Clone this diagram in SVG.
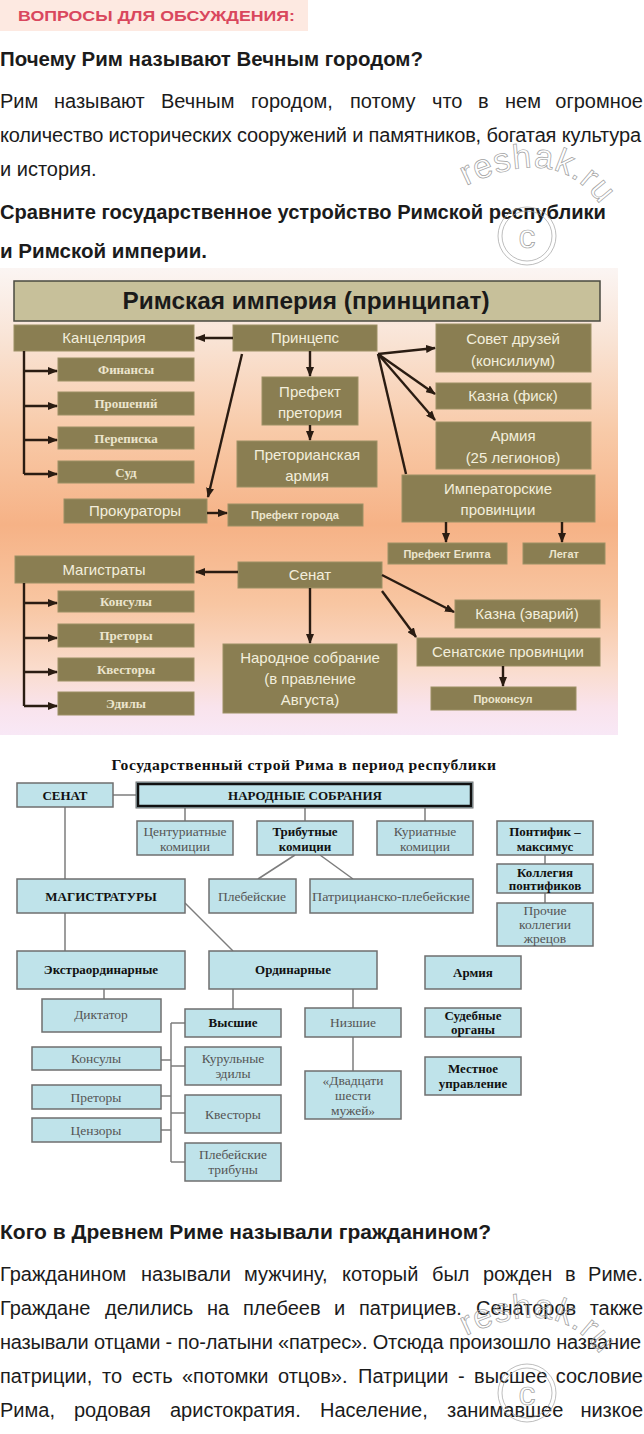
<svg xmlns="http://www.w3.org/2000/svg" width="644" height="1434" viewBox="0 0 644 1434">
<defs>
<linearGradient id="bg" x1="0" y1="0" x2="0" y2="1">
<stop offset="0" stop-color="#fbf5f3"/>
<stop offset="0.15" stop-color="#f9e4d6"/>
<stop offset="0.35" stop-color="#f8caa8"/>
<stop offset="0.55" stop-color="#f6b286"/>
<stop offset="0.72" stop-color="#f8c6a2"/>
<stop offset="0.86" stop-color="#fadccd"/>
<stop offset="0.94" stop-color="#f9e3ec"/>
<stop offset="1" stop-color="#f8e8f6"/>
</linearGradient>
<marker id="ah" markerWidth="10" markerHeight="8" refX="9" refY="4" orient="auto" markerUnits="userSpaceOnUse">
<path d="M0,0 L10,4 L0,8 Z" fill="#2a1c12"/>
</marker>
<style>
.q{font-family:"Liberation Sans",Arial,sans-serif;font-size:20px;fill:#1b1b1b}
.qb{font-weight:bold}
.eb{fill:#8a7e52;stroke:#9c9064;stroke-width:1}
.et{font-family:"Liberation Sans",Arial,sans-serif;font-size:15px;fill:#f3eedc;text-anchor:middle}
.es{font-family:"Liberation Serif","Times New Roman",serif;font-size:13px;font-weight:bold;fill:#ece5cd;text-anchor:middle}
.esm{font-family:"Liberation Sans",Arial,sans-serif;font-size:11px;font-weight:bold;fill:#ece5cd;text-anchor:middle}
.ea{stroke:#2a1c12;stroke-width:2.4;fill:none}
.eam{marker-end:url(#ah)}
.rb{fill:#bfe3ea;stroke:#6f6f6f;stroke-width:1.5}
.rt{font-family:"Liberation Serif","Times New Roman",serif;font-size:13.5px;fill:#555;text-anchor:middle}
.rtb{font-family:"Liberation Serif","Times New Roman",serif;font-size:13px;font-weight:bold;fill:#111;text-anchor:middle}
.rc{stroke:#7d7d7d;stroke-width:1.5;fill:none}
.wm{font-family:"Liberation Sans",Arial,sans-serif;font-size:34px;letter-spacing:1px;fill:none;stroke:#a0a0a0;stroke-width:0.7}
.wc{fill:none;stroke:#a0a0a0;stroke-width:0.7}
</style>
<path id="wp1" d="M 466 186 Q 600 120 632 292"/>
<path id="wp2" d="M 466 1336 Q 600 1270 632 1442"/>
</defs>
<rect width="644" height="1434" fill="#ffffff"/>

<g id="header">
<rect x="0" y="0" width="308" height="31" fill="#fde9e1"/>
<text x="18" y="21" font-family="Liberation Sans,Arial,sans-serif" font-size="15" font-weight="bold" fill="#d9475d" textLength="277" lengthAdjust="spacingAndGlyphs">ВОПРОСЫ ДЛЯ ОБСУЖДЕНИЯ:</text>
</g>
<g id="text-top" class="q">
<text class="qb" x="0" y="66" textLength="423" lengthAdjust="spacingAndGlyphs">Почему Рим называют Вечным городом?</text>
<text x="0" y="108">Рим</text>
<text x="54" y="108">называют</text>
<text x="161" y="108">Вечным</text>
<text x="251" y="108">городом,</text>
<text x="350" y="108">потому</text>
<text x="432" y="108">что</text>
<text x="478" y="108">в</text>
<text x="505" y="108">нем</text>
<text x="643" y="108" text-anchor="end">огромное</text>
<text x="0" y="142" textLength="641" lengthAdjust="spacing">количество исторических сооружений и памятников, богатая культура</text>
<text x="0" y="176">и история.</text>
<text class="qb" x="0" y="219" textLength="606" lengthAdjust="spacingAndGlyphs">Сравните государственное устройство Римской республики</text>
<text class="qb" x="0" y="258" textLength="207" lengthAdjust="spacingAndGlyphs">и Римской империи.</text>
</g>

<!-- Empire diagram -->
<rect x="0" y="268" width="618" height="467" fill="url(#bg)"/>
<g id="e-title">
<rect x="14" y="281" width="586" height="40" fill="#c7c09a" stroke="#4a4a40" stroke-width="1.5"/>
<text x="306" y="309" font-family="Liberation Sans,Arial,sans-serif" font-size="24" font-weight="bold" fill="#1a1a1a" text-anchor="middle" textLength="367" lengthAdjust="spacingAndGlyphs">Римская империя (принципат)</text>
</g>
<g id="e-kanc"><rect class="eb" x="14" y="325" width="180" height="26"/><text class="et" x="104" y="343">Канцелярия</text></g>
<g id="e-princeps"><rect class="eb" x="233" y="325" width="144" height="26"/><text class="et" x="305" y="343">Принцепс</text></g>
<g id="e-fin"><rect class="eb" x="58" y="358" width="136" height="23"/><text class="es" x="126" y="374">Финансы</text></g>
<g id="e-pros"><rect class="eb" x="58" y="392" width="136" height="23"/><text class="es" x="126" y="408">Прошений</text></g>
<g id="e-perep"><rect class="eb" x="58" y="427" width="136" height="22"/><text class="es" x="126" y="443">Переписка</text></g>
<g id="e-sud"><rect class="eb" x="58" y="461" width="136" height="22"/><text class="es" x="126" y="477">Суд</text></g>
<g id="e-pref-pret"><rect class="eb" x="262" y="377" width="96" height="48"/><text class="et" x="310" y="397">Префект</text><text class="et" x="310" y="418">претория</text></g>
<g id="e-pret-army"><rect class="eb" x="237" y="441" width="140" height="46"/><text class="et" x="307" y="460">Преторианская</text><text class="et" x="307" y="481">армия</text></g>
<g id="e-prokur"><rect class="eb" x="64" y="499" width="143" height="24"/><text class="et" x="135" y="516">Прокураторы</text></g>
<g id="e-pref-gor"><rect class="eb" x="228" y="504" width="135" height="22"/><text class="esm" x="295" y="519">Префект города</text></g>
<g id="e-sovet"><rect class="eb" x="436" y="324" width="155" height="48"/><text class="et" x="513" y="344">Совет друзей</text><text class="et" x="513" y="366">(консилиум)</text></g>
<g id="e-fisk"><rect class="eb" x="436" y="383" width="155" height="26"/><text class="et" x="513" y="401">Казна (фиск)</text></g>
<g id="e-army"><rect class="eb" x="436" y="422" width="155" height="47"/><text class="et" x="513" y="441">Армия</text><text class="et" x="513" y="463">(25 легионов)</text></g>
<g id="e-imp-prov"><rect class="eb" x="402" y="475" width="193" height="47"/><text class="et" x="498" y="494">Императорские</text><text class="et" x="498" y="515">провинции</text></g>
<g id="e-pref-eg"><rect class="eb" x="388" y="543" width="119" height="21"/><text class="esm" x="447" y="558">Префект Египта</text></g>
<g id="e-legat"><rect class="eb" x="523" y="543" width="82" height="21"/><text class="esm" x="564" y="558">Легат</text></g>
<g id="e-magistr"><rect class="eb" x="15" y="556" width="179" height="27"/><text class="et" x="104" y="575">Магистраты</text></g>
<g id="e-kons"><rect class="eb" x="58" y="591" width="136" height="21"/><text class="es" x="126" y="606">Консулы</text></g>
<g id="e-pretory"><rect class="eb" x="58" y="624" width="136" height="23"/><text class="es" x="126" y="640">Преторы</text></g>
<g id="e-kvest"><rect class="eb" x="58" y="658" width="136" height="23"/><text class="es" x="126" y="674">Квесторы</text></g>
<g id="e-edil"><rect class="eb" x="58" y="692" width="136" height="23"/><text class="es" x="126" y="708">Эдилы</text></g>
<g id="e-senat"><rect class="eb" x="238" y="562" width="144" height="26"/><text class="et" x="310" y="580">Сенат</text></g>
<g id="e-nar"><rect class="eb" x="223" y="644" width="174" height="69"/><text class="et" x="310" y="663">Народное собрание</text><text class="et" x="310" y="684">(в правление</text><text class="et" x="310" y="705">Августа)</text></g>
<g id="e-erar"><rect class="eb" x="455" y="600" width="145" height="28"/><text class="et" x="527" y="619">Казна (эварий)</text></g>
<g id="e-sen-prov"><rect class="eb" x="417" y="638" width="183" height="28"/><text class="et" x="508" y="657">Сенатские провинции</text></g>
<g id="e-prokons"><rect class="eb" x="431" y="687" width="145" height="23"/><text class="esm" x="503" y="703">Проконсул</text></g>

<g id="e-connectors">
<path class="ea eam" d="M233 338 H196"/>
<path class="ea" d="M24 351 V474"/>
<path class="ea eam" d="M24 371 H57"/>
<path class="ea eam" d="M24 406 H57"/>
<path class="ea eam" d="M24 440 H57"/>
<path class="ea eam" d="M24 474 H57"/>
<path class="ea eam" d="M242 354 L208 497"/>
<path class="ea eam" d="M207 513 H227"/>
<path class="ea eam" d="M310 351 V376"/>
<path class="ea eam" d="M310 425 V440"/>
<path class="ea eam" d="M378 354 L435 348"/>
<path class="ea eam" d="M378 354 L435 394"/>
<path class="ea eam" d="M378 354 L435 420"/>
<path class="ea" d="M378 354 L406 474"/>
<path class="ea eam" d="M446 522 V542"/>
<path class="ea eam" d="M562 522 V542"/>
<path class="ea eam" d="M238 572 H196"/>
<path class="ea" d="M24 583 V706"/>
<path class="ea eam" d="M24 603 H57"/>
<path class="ea eam" d="M24 638 H57"/>
<path class="ea eam" d="M24 672 H57"/>
<path class="ea eam" d="M24 706 H57"/>
<path class="ea eam" d="M310 588 V643"/>
<path class="ea eam" d="M382 575 L454 612"/>
<path class="ea eam" d="M382 591 L416 637"/>
<path class="ea eam" d="M503 666 V686"/>
</g>

<!-- Republic diagram -->
<text x="304" y="770" font-family="Liberation Serif,Times New Roman,serif" font-size="14" font-weight="bold" fill="#111" text-anchor="middle" textLength="385" lengthAdjust="spacingAndGlyphs" letter-spacing="0.5">Государственный строй Рима в период республики</text>
<g id="r-connectors">
<path class="rc" d="M113 795 H136"/>
<path class="rc" d="M65 807 V879"/>
<path class="rc" d="M185 808 V821 M305 808 V821 M425 808 V821"/>
<path class="rc" d="M295 855 L258 879 M320 855 L353 879"/>
<path class="rc" d="M545 855 V864 M545 893 V903"/>
<path class="rc" d="M65 913 V951"/>
<path class="rc" d="M185 903 L233 951"/>
<path class="rc" d="M104 989 V999"/>
<path class="rc" d="M233 989 V1009"/>
<path class="rc" d="M353 989 V1008 M353 1037 V1071"/>
<path class="rc" d="M171 1023 V1162 M171 1023 H185 M171 1066 H185 M171 1113 H185 M171 1162 H185"/>
<path class="rc" d="M161 1060 H171 M161 1096 H171 M161 1130 H171"/>
</g>
<g id="r-senat"><rect class="rb" x="17" y="783" width="96" height="24"/><text class="rtb" x="65" y="800">СЕНАТ</text></g>
<g id="r-nar"><rect x="136" y="782" width="337" height="26" fill="#bfe3ea" stroke="#6f6f6f" stroke-width="1"/><rect x="138" y="784" width="333" height="22" fill="none" stroke="#111" stroke-width="2.5"/><text class="rtb" x="305" y="800">НАРОДНЫЕ СОБРАНИЯ</text></g>
<g id="r-cent"><rect class="rb" x="137" y="821" width="96" height="34"/><text class="rt" x="185" y="836">Центуриатные</text><text class="rt" x="185" y="851">комиции</text></g>
<g id="r-trib"><rect class="rb" x="257" y="821" width="96" height="34"/><text class="rtb" x="305" y="836">Трибутные</text><text class="rtb" x="305" y="851">комиции</text></g>
<g id="r-kur"><rect class="rb" x="377" y="821" width="96" height="34"/><text class="rt" x="425" y="836">Куриатные</text><text class="rt" x="425" y="851">комиции</text></g>
<g id="r-pont"><rect class="rb" x="497" y="821" width="96" height="34"/><text class="rtb" x="545" y="836">Понтифик –</text><text class="rtb" x="545" y="851">максимус</text></g>
<g id="r-koll"><rect class="rb" x="497" y="864" width="96" height="29"/><text class="rtb" x="545" y="877">Коллегия</text><text class="rtb" x="545" y="890">понтификов</text></g>
<g id="r-proch"><rect class="rb" x="497" y="903" width="96" height="43"/><text class="rt" x="545" y="915">Прочие</text><text class="rt" x="545" y="929">коллегии</text><text class="rt" x="545" y="943">жрецов</text></g>
<g id="r-magistr"><rect class="rb" x="17" y="879" width="168" height="34"/><text class="rtb" x="101" y="901">МАГИСТРАТУРЫ</text></g>
<g id="r-pleb"><rect class="rb" x="209" y="879" width="87" height="34"/><text class="rt" x="252" y="901">Плебейские</text></g>
<g id="r-patr"><rect class="rb" x="310" y="879" width="163" height="34"/><text class="rt" x="391" y="901" textLength="158" lengthAdjust="spacingAndGlyphs">Патрицианско-плебейские</text></g>
<g id="r-extra"><rect class="rb" x="17" y="951" width="168" height="38"/><text class="rtb" x="101" y="974">Экстраординарные</text></g>
<g id="r-ord"><rect class="rb" x="209" y="951" width="168" height="38"/><text class="rtb" x="293" y="974">Ординарные</text></g>
<g id="r-army"><rect class="rb" x="425" y="956" width="96" height="33"/><text class="rtb" x="473" y="977">Армия</text></g>
<g id="r-dikt"><rect class="rb" x="42" y="999" width="119" height="33"/><text class="rt" x="101" y="1019">Диктатор</text></g>
<g id="r-vysh"><rect class="rb" x="185" y="1009" width="96" height="28"/><text class="rtb" x="233" y="1027">Высшие</text></g>
<g id="r-nizsh"><rect class="rb" x="305" y="1008" width="96" height="29"/><text class="rt" x="353" y="1027">Низшие</text></g>
<g id="r-sud"><rect class="rb" x="425" y="1008" width="96" height="29"/><text class="rtb" x="473" y="1020">Судебные</text><text class="rtb" x="473" y="1034">органы</text></g>
<g id="r-kons"><rect class="rb" x="32" y="1047" width="129" height="23"/><text class="rt" x="96" y="1063">Консулы</text></g>
<g id="r-kur-ed"><rect class="rb" x="185" y="1047" width="96" height="38"/><text class="rt" x="233" y="1063">Курульные</text><text class="rt" x="233" y="1078">эдилы</text></g>
<g id="r-mest"><rect class="rb" x="425" y="1057" width="96" height="38"/><text class="rtb" x="473" y="1073">Местное</text><text class="rtb" x="473" y="1088">управление</text></g>
<g id="r-26"><rect class="rb" x="305" y="1071" width="96" height="48"/><text class="rt" x="353" y="1085">«Двадцати</text><text class="rt" x="353" y="1100">шести</text><text class="rt" x="353" y="1115">мужей»</text></g>
<g id="r-pretory"><rect class="rb" x="32" y="1085" width="129" height="24"/><text class="rt" x="96" y="1102">Преторы</text></g>
<g id="r-kvest"><rect class="rb" x="185" y="1095" width="96" height="38"/><text class="rt" x="233" y="1119">Квесторы</text></g>
<g id="r-cenz"><rect class="rb" x="32" y="1118" width="129" height="24"/><text class="rt" x="96" y="1135">Цензоры</text></g>
<g id="r-pleb-trib"><rect class="rb" x="185" y="1143" width="96" height="38"/><text class="rt" x="233" y="1159">Плебейские</text><text class="rt" x="233" y="1174">трибуны</text></g>

<g id="text-bottom" class="q">
<text class="qb" x="0" y="1239" textLength="491" lengthAdjust="spacingAndGlyphs">Кого в Древнем Риме называли гражданином?</text>
<text x="0" y="1281">Гражданином</text>
<text x="141" y="1281">называли</text>
<text x="244" y="1281">мужчину,</text>
<text x="342" y="1281">который</text>
<text x="432" y="1281">был</text>
<text x="483" y="1281">рожден</text>
<text x="565" y="1281">в</text>
<text x="643" y="1281" text-anchor="end">Риме.</text>
<text x="0" y="1315">Граждане</text>
<text x="105" y="1315">делились</text>
<text x="207" y="1315">на</text>
<text x="243" y="1315">плебеев</text>
<text x="334" y="1315">и</text>
<text x="359" y="1315">патрициев.</text>
<text x="476" y="1315">Сенаторов</text>
<text x="643" y="1315" text-anchor="end">также</text>
<text x="0" y="1349" textLength="641" lengthAdjust="spacing">называли отцами - по-латыни «патрес». Отсюда произошло название</text>
<text x="0" y="1383">патриции,</text>
<text x="102" y="1383">то</text>
<text x="132" y="1383">есть</text>
<text x="182" y="1383">«потомки</text>
<text x="278" y="1383">отцов».</text>
<text x="358" y="1383">Патриции</text>
<text x="458" y="1383">-</text>
<text x="474" y="1383">высшее</text>
<text x="643" y="1383" text-anchor="end">сословие</text>
<text x="0" y="1417">Рима,</text>
<text x="74" y="1417">родовая</text>
<text x="170" y="1417">аристократия.</text>
<text x="320" y="1417">Население,</text>
<text x="447" y="1417">занимавшее</text>
<text x="643" y="1417" text-anchor="end">низкое</text>
</g>

<g id="watermarks">
<text class="wm"><textPath href="#wp1">reshak.ru</textPath></text>
<circle class="wc" cx="527" cy="236" r="29"/>
<circle class="wc" cx="527" cy="236" r="25"/>
<text x="527" y="248" font-family="Liberation Sans,Arial,sans-serif" font-size="34" fill="none" stroke="#a0a0a0" stroke-width="0.7" text-anchor="middle">c</text>
<text class="wm"><textPath href="#wp2">reshak.ru</textPath></text>
<circle class="wc" cx="527" cy="1393" r="29"/>
<circle class="wc" cx="527" cy="1393" r="25"/>
<text x="527" y="1405" font-family="Liberation Sans,Arial,sans-serif" font-size="34" fill="none" stroke="#a0a0a0" stroke-width="0.7" text-anchor="middle">c</text>
</g>
</svg>
